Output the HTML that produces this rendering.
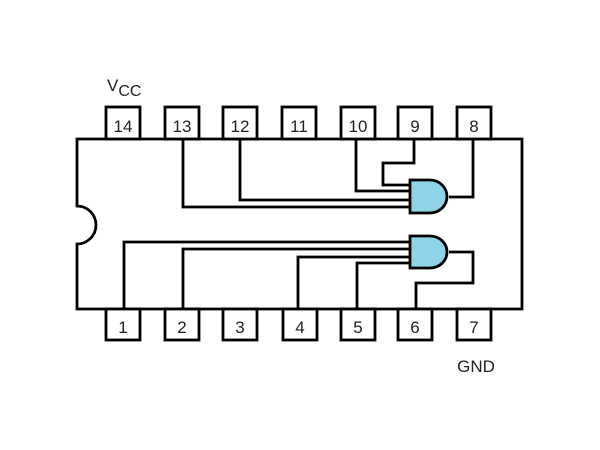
<!DOCTYPE html>
<html><head><style>body{margin:0;background:#fff;}svg{display:block}</style></head><body>
<svg width="600" height="450" xmlns="http://www.w3.org/2000/svg" font-family="Liberation Sans, sans-serif">
<g fill="#fff" stroke="#000" stroke-width="2.8">
<path d="M77 139 H522 V309 H77 V244 A19 19 0 0 0 77 206 Z"/>
<rect x="106" y="107" width="34" height="32"/><rect x="165" y="107" width="34" height="32"/><rect x="223" y="107" width="34" height="32"/><rect x="282" y="107" width="34" height="32"/><rect x="341" y="107" width="34" height="32"/><rect x="398" y="107" width="34" height="32"/><rect x="457" y="107" width="34" height="32"/>
<rect x="106" y="309" width="34" height="31"/><rect x="165" y="309" width="34" height="31"/><rect x="223" y="309" width="34" height="31"/><rect x="283" y="309" width="34" height="31"/><rect x="341" y="309" width="34" height="31"/><rect x="398" y="309" width="34" height="31"/><rect x="457" y="309" width="34" height="31"/>
</g>
<g fill="none" stroke="#000" stroke-width="2.8">
<path d="M183 139 V207 H410"/><path d="M240 139 V200 H410"/><path d="M356 139 V191 H410"/><path d="M414 139 V163 H383 V185 H410"/><path d="M449 197 H473 V139"/>
<path d="M124 309 V242 H410"/><path d="M183 309 V249 H410"/><path d="M298 309 V257 H410"/><path d="M357 309 V263 H410"/><path d="M449 252 H473 V283 H416 V309"/>
</g>
<g fill="#8fd3e6" stroke="#000" stroke-width="2.8">
<path d="M410 180 H430 A17 16.5 0 0 1 430 213 H410 Z"/>
<path d="M410 236 H430 A17 16 0 0 1 430 268 H410 Z"/>
</g>
<g font-size="17" fill="#222" text-anchor="middle">
<text x="123" y="132">14</text><text x="182" y="132">13</text><text x="240" y="132">12</text><text x="299" y="132">11</text><text x="358" y="132">10</text><text x="415" y="132">9</text><text x="474" y="132">8</text>
<text x="123" y="333">1</text><text x="182" y="333">2</text><text x="240" y="333">3</text><text x="300" y="333">4</text><text x="358" y="333">5</text><text x="415" y="333">6</text><text x="474" y="333">7</text>
<text x="476" y="372">GND</text>
</g>
<text x="107" y="91" font-size="17" fill="#222">V<tspan font-size="16" dy="5">CC</tspan></text>
</svg>
</body></html>
